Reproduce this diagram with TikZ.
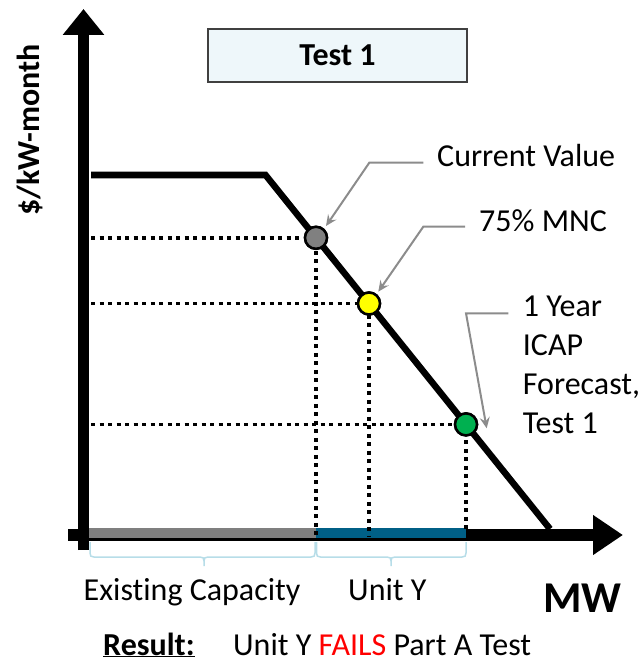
\documentclass[tikz,border=0pt]{standalone}
\usepackage{fontspec}
\setmainfont{Carlito}[Ligatures=NoCommon]
\usetikzlibrary{arrows.meta,calc}
\definecolor{ptgray}{HTML}{808080}
\definecolor{bargray}{HTML}{7F7F7F}
\definecolor{barblue}{HTML}{005F86}
\definecolor{conngray}{HTML}{8C8C8C}
\definecolor{boxfill}{HTML}{EEF7FA}
\definecolor{boxline}{HTML}{404040}
\definecolor{bracecol}{HTML}{B7DDE8}
\definecolor{ptgreen}{HTML}{00B050}
\definecolor{ptyellow}{HTML}{FFFF00}
\newcommand\lblfont{\fontsize{32}{39}\selectfont}
\tikzset{
  axisline/.style={line width=#1, black},
  demand/.style={line width=6.5pt, black},
  guide/.style={line width=3.5pt, black, dash pattern=on 4pt off 4.5pt},
  pt/.style={circle, draw=black, line width=2.5pt, minimum size=22pt, inner sep=0pt, fill=#1},
  conn/.style={conngray, line width=2pt, -{Stealth[length=11pt,width=10pt,inset=4pt]}},
  lbl/.style={inner sep=0pt, font=\lblfont},
  bracestyle/.style={bracecol, line width=1.5pt},
  bar/.style={line width=10pt, draw=#1}
}
\begin{document}
\begin{tikzpicture}[x=1pt,y=-1pt]
\useasboundingbox (0,0) rectangle (643,663);

% axes
\coordinate (ybot) at (83.5,550);
\coordinate (ytop) at (83.5,9);
\coordinate (xleft) at (68,535);
\coordinate (xright) at (623,535);
\draw[axisline=11pt, -{Triangle[length=26pt,width=40pt]}] (ybot) -- (ytop);
\draw[axisline=12pt, -{Triangle[length=30pt,width=38pt]}] (xleft) -- (xright);

% capacity bars
\coordinate (b0) at (89,533);
\coordinate (b1) at (316,533);
\coordinate (b2) at (466,533);
\draw[bar=bargray] (b0) -- (b1);
\draw[bar=barblue] (b1) -- (b2);

% demand curve points
\coordinate (d0) at (91,175);
\coordinate (d1) at (265.5,175);
\coordinate (d2) at (550,529);

\node[pt=ptgray] (cv) at (316,237.8) {};
\node[pt=ptyellow] (mnc) at (369,303.5) {};
\node[pt=ptgreen] (fc) at (466,424.4) {};

% dotted guides
\coordinate (hy1) at (91,237.8);
\coordinate (hy2) at (91,303.5);
\coordinate (hy3) at (91,424.4);
\coordinate (vx1) at (316,536);
\coordinate (vx2) at (369,536);
\coordinate (vx3) at (466,530);
\draw[guide] (hy1) -- (cv.center) -- (vx1);
\draw[guide] (hy2) -- (mnc.center) -- (vx2);
\draw[guide] (hy3) -- (fc.center) -- (vx3);

\draw[demand] (d0) -- (d1) -- (d2);

% redraw points on top
\node[pt=ptgray] at (cv) {};
\node[pt=ptyellow] at (mnc) {};
\node[pt=ptgreen] at (fc) {};

% title box
\node[draw=boxline, fill=boxfill, line width=1.5pt, minimum width=259pt, minimum height=53pt, inner sep=0pt, font=\lblfont\bfseries] (title) at (337.5,55.5) {Test 1};

% y label
\node[lbl, font=\lblfont\bfseries, rotate=90] (ylab) at (29.5,130) {\$/kW-month};

% labels
\node[lbl, anchor=base west] (cvlab) at (437,166.7) {Current Value};
\node[lbl, anchor=base west] (mnclab) at (479,231.7) {75\% MNC};
\node[lbl, anchor=north west, align=left] (fclab) at (522.7,296) {1 Year\\ICAP\\Forecast,\\Test 1};

% connectors
\coordinate (a1) at (423.3,162.7);
\coordinate (a2) at (369.3,162.7);
\coordinate (a3) at (326,226);
\draw[conn] (a1) -- (a2) -- (a3);
\coordinate (m1) at (465,226.7);
\coordinate (m2) at (423.3,226.7);
\coordinate (m3) at (378.3,291.7);
\draw[conn] (m1) -- (m2) -- (m3);
\coordinate (f1) at (508.3,313.3);
\coordinate (f2) at (466,313.3);
\coordinate (f3) at (486.7,428.3);
\draw[conn] (f1) -- (f2) -- (f3);

% braces
\draw[bracestyle] (90,542) -- (90,553) .. controls (90,556) and (91,557) .. (94,557) -- (200,557) .. controls (203,557) and (204,558) .. (204,561) -- (204,566)
  (204,561) .. controls (204,558) and (205,557) .. (208,557) -- (311,557) .. controls (314,557) and (315,556) .. (315,553) -- (315,542);
\draw[bracestyle] (316.5,542) -- (316.5,553) .. controls (316.5,556) and (317.5,557) .. (320.5,557) -- (387,557) .. controls (390,557) and (391,558) .. (391,561) -- (391,566)
  (391,561) .. controls (391,558) and (392,557) .. (395,557) -- (462,557) .. controls (465,557) and (466,556) .. (466,553) -- (466,542);

% axis captions
\node[lbl, anchor=base west] (exlab) at (83.5,600) {Existing Capacity};
\node[lbl, anchor=base west] (uylab) at (348,600) {Unit Y};
\node[lbl, anchor=base west, font=\fontsize{44}{50}\selectfont\bfseries] (mw) at (543,612) {MW};

% result
\node[lbl, anchor=base west, font=\lblfont\bfseries] (res) at (103,655) {\underline{Result:}};
\node[lbl, anchor=base west] (restext) at (233,655) {Unit Y \textcolor{red}{FAILS} Part A Test};
\end{tikzpicture}
\end{document}
